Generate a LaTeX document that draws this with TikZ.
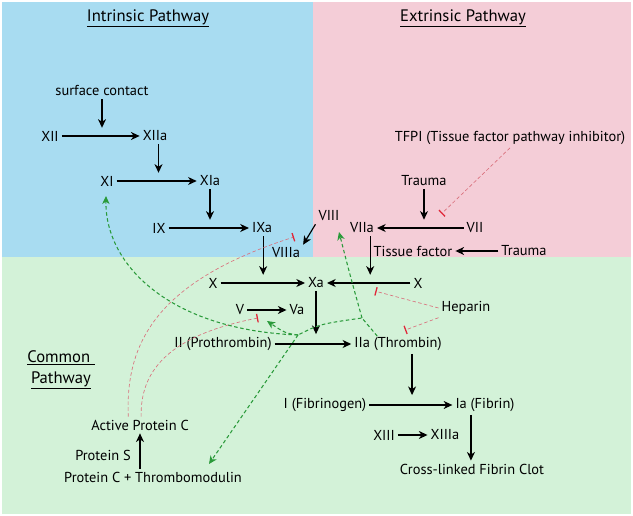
\documentclass[tikz,border=0pt]{standalone}
\usepackage{fontspec}
\setmainfont{PT Sans}
\usepackage{xcolor}
\usepackage{tikz}
\usetikzlibrary{arrows.meta,positioning,calc}
\definecolor{intrbg}{HTML}{A8DCF1}
\definecolor{extrbg}{HTML}{F4CDD7}
\definecolor{commbg}{HTML}{D3F2D8}
\definecolor{inhib}{HTML}{D9707C}
\definecolor{inhibbar}{HTML}{E0283A}
\definecolor{activ}{HTML}{2A9A3A}

\begin{document}
\begin{tikzpicture}[x=0.03cm, y=-0.03cm,
  lbl/.style={inner sep=2.5pt, font=\fontsize{12.3}{14}\selectfont},
  title/.style={inner sep=1pt, font=\fontsize{14.2}{18}\selectfont, align=center},
  arrow/.style={-{Stealth[length=2.6mm,width=2.4mm,inset=0.8mm]}, line width=1pt},
  inhibit/.style={-{Bar[width=2.6mm,line width=1.1pt,color=inhibbar]}, inhib, line width=0.55pt, dash pattern=on 3pt off 2pt},
  feedback/.style={-{Stealth[length=2.4mm,width=2.2mm,inset=0.7mm]}, activ, line width=0.9pt, dash pattern=on 3pt off 2.2pt}
]
\useasboundingbox (0,0) rectangle (633,516);
\fill[intrbg] (2,2) rectangle (313,257);
\fill[extrbg] (313,2) rectangle (631,257);
\fill[commbg] (2,257) rectangle (631,514);

\node[title] (intr) at (148,18) {\underline{Intrinsic Pathway}};
\node[title] (extr) at (463,18) {\underline{Extrinsic Pathway}};
\node[title] (comm) at (61,370) {\underline{Common\ }\\\underline{Pathway}};

\node[lbl] (sc) at (102,91) {surface contact};
\node[lbl] (XII) at (50,136) {XII};
\node[lbl] (XIIa) at (155,136) {XIIa};
\node[lbl] (XI) at (107,181) {XI};
\node[lbl] (XIa) at (210,181) {XIa};
\node[lbl] (IX) at (159,228) {IX};
\node[lbl] (IXa) at (262,228) {IXa};
\node[lbl] (VIII) at (329,216) {VIII};
\node[lbl] (VIIIa) at (286,253) {VIIIa};
\node[lbl] (TFPI) at (510,138) {TFPI (Tissue factor pathway inhibitor)};
\node[lbl] (trauma) at (424,181) {Trauma};
\node[lbl] (VIIa) at (362,228) {VIIa};
\node[lbl] (VII) at (475,228) {VII};
\node[lbl] (TF) at (413,251) {Tissue factor};
\node[lbl] (trauma2) at (524,251) {Trauma};
\node[lbl] (X) at (213,283) {X};
\node[lbl] (Xa) at (316,283) {Xa};
\node[lbl] (X2) at (418,283) {X};
\node[lbl] (V) at (240,310) {V};
\node[lbl] (Va) at (297,310) {Va};
\node[lbl] (hep) at (466,308) {Heparin};
\node[lbl] (II) at (223,344) {II (Prothrombin)};
\node[lbl] (IIa) at (398,344) {IIa (Thrombin)};
\node[lbl] (I) at (325,405) {I (Fibrinogen)};
\node[lbl] (Ia) at (485,405) {Ia (Fibrin)};
\node[lbl] (XIII) at (384,435) {XIII};
\node[lbl] (XIIIa) at (445,435) {XIIIa};
\node[lbl] (clot) at (472,469) {Cross-linked Fibrin Clot};
\node[lbl] (APC) at (140,425) {Active Protein C};
\node[lbl] (PS) at (103,455) {Protein S};
\node[lbl] (PCT) at (153,477) {Protein C + Thrombomodulin};

\draw[arrow] (sc.south) -- (sc.south |- XII.north);
\draw[arrow] (XII.east) -- (XIIa.west);
\draw[arrow] ([xshift=3pt]XIIa.south) -- ([xshift=3pt]XIIa.south |- XI.north);
\draw[arrow] (XI.east) -- (XIa.west);
\draw[arrow] (XIa.south) -- (XIa.south |- IX.north);
\draw[arrow] (IX.east) -- (IXa.west);
\draw[arrow] ([xshift=1pt]IXa.south) -- ([xshift=1pt]IXa.south |- X.north);
\draw[arrow] (VIII.south west) -- (VIIIa.north east);
\draw[arrow] (trauma.south) -- (trauma.south |- VII.north);
\draw[arrow] (VII.west) -- (VIIa.east);
\draw[arrow] (trauma2.west) -- (TF.east);
\draw[arrow] ([xshift=7pt]VIIa.south) -- ([xshift=7pt]VIIa.south |- X2.north);
\draw[arrow] (X.east) -- (Xa.west);
\draw[arrow] (X2.west) -- (Xa.east);
\draw[arrow] (V.east) -- (Va.west);
\draw[arrow] (Xa.south) -- (Xa.south |- IIa.north);
\draw[arrow] (II.east) -- (IIa.west);
\draw[arrow] ([xshift=12pt]IIa.south) -- ([xshift=12pt]IIa.south |- Ia.north);
\draw[arrow] (I.east) -- (Ia.west);
\draw[arrow] (XIII.east) -- (XIIIa.west);
\draw[arrow] ([xshift=-12pt]Ia.south) -- ([xshift=-12pt]Ia.south |- clot.north);
\draw[arrow] (APC.south |- PCT.north) -- (APC.south);

\draw[inhibit] (TFPI.south) -- ($(VII.north west)+(-22,-6)$);
\draw[inhibit] (hep.west) -- ($(X2.south west)+(-35,0)$);
\draw[inhibit] (hep.south west) -- ($(IIa.north)+(7,-4)$);
\draw[inhibit] ([xshift=-10pt]APC.north) .. controls (125,340) and (160,280) .. (294,237);
\draw[inhibit] ([xshift=1pt]APC.north) .. controls (140,370) and (170,335) .. (258,318);

\coordinate (jt) at (362,318);
\coordinate (js) at (298,335);
\draw[feedback, -] ($(IIa.north west)+(26,2)$) -- (jt) .. controls (320,324) .. (js);
\draw[feedback] (jt) .. controls (350,275) .. (339,232);
\draw[feedback] (js) .. controls (285,333) .. (267,321);
\draw[feedback] (js) .. controls (170,330) and (105,265) .. (106,196);
\draw[feedback] (js) -- (209,464);
\end{tikzpicture}
\end{document}
